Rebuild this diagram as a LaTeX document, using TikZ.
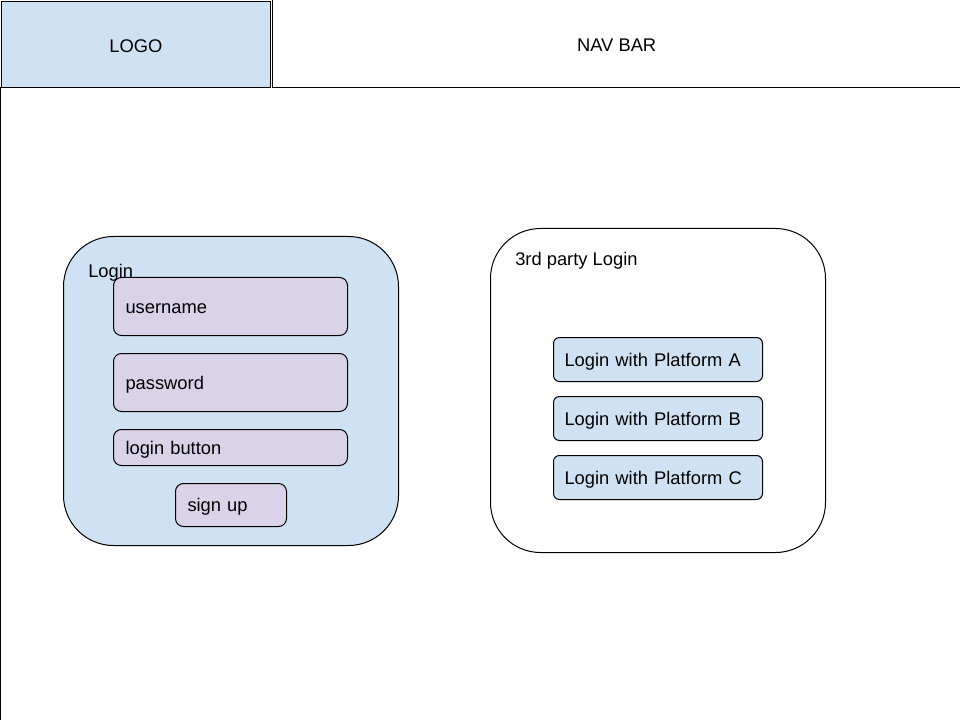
\documentclass[tikz,border=0pt]{standalone}
\usepackage{fontspec}
\setmainfont{Liberation Sans}
\usetikzlibrary{positioning}

\definecolor{paleblue}{HTML}{CFE2F3}
\definecolor{palepurple}{HTML}{D9D2E9}

\begin{document}
\begin{tikzpicture}[
    x=0.75pt, y=-0.75pt,
    font=\fontsize{13.75pt}{16pt}\selectfont,
    header/.style={draw=black, line width=1pt, inner sep=0pt, anchor=north west,
        text height=11.5pt, text depth=0pt},
    panel/.style={draw=black, line width=0.75pt, rounded corners=37.5pt, inner sep=0pt, anchor=north west},
    field/.style={draw=black, line width=0.75pt, fill=palepurple, rounded corners=6pt, anchor=north west,
        align=left, inner xsep=9pt, inner ysep=0pt, text height=10.3pt, text depth=0pt},
    platform/.style={draw=black, line width=0.75pt, fill=paleblue, rounded corners=4.5pt, anchor=north west,
        align=left, inner xsep=8.25pt, inner ysep=0pt, text width=140.25pt, minimum height=33pt,
        text height=10.3pt, text depth=0pt},
    caption/.style={anchor=west, inner sep=0pt}
    ]
    \useasboundingbox (0,0) rectangle (960,720);

    %% Header
    \node[header, fill=paleblue, minimum width=201.75pt, minimum height=64.5pt](logo) at (0.7,0.7){LOGO};
    \node[header, minimum width=516pt, minimum height=66pt](nav) at (272,-1){NAV BAR};
    \coordinate (pagetop) at (0.7,87);
    \coordinate (pagebottom) at (0.7,721);
    \draw[line width=1pt] (pagetop) -- (pagebottom);

    %% Login panel
    \node[panel, fill=paleblue, minimum width=251.25pt, minimum height=231.75pt](login) at (63,236){};
    \node[caption](logintitle) at (88,273){Login};
    \node[field, text width=157.5pt, minimum height=43.5pt](user) at (113,277){username};
    \node[field, text width=157.5pt, minimum height=43.5pt](pass) at (113,353){password};
    \node[field, text width=157.5pt, minimum height=27pt](button) at (113,429){login button};
    \node[field, text width=65.25pt, minimum height=32.25pt](signup) at (175,483){sign up};

    %% Third party panel
    \node[panel, minimum width=251.25pt, minimum height=243pt](third) at (490,228){};
    \node[caption](thirdtitle) at (515,261){3rd party Login};
    \node[platform](pa) at (553,337){Login with Platform A};
    \node[platform](pb) at (553,396){Login with Platform B};
    \node[platform](pc) at (553,455){Login with Platform C};
\end{tikzpicture}
\end{document}
